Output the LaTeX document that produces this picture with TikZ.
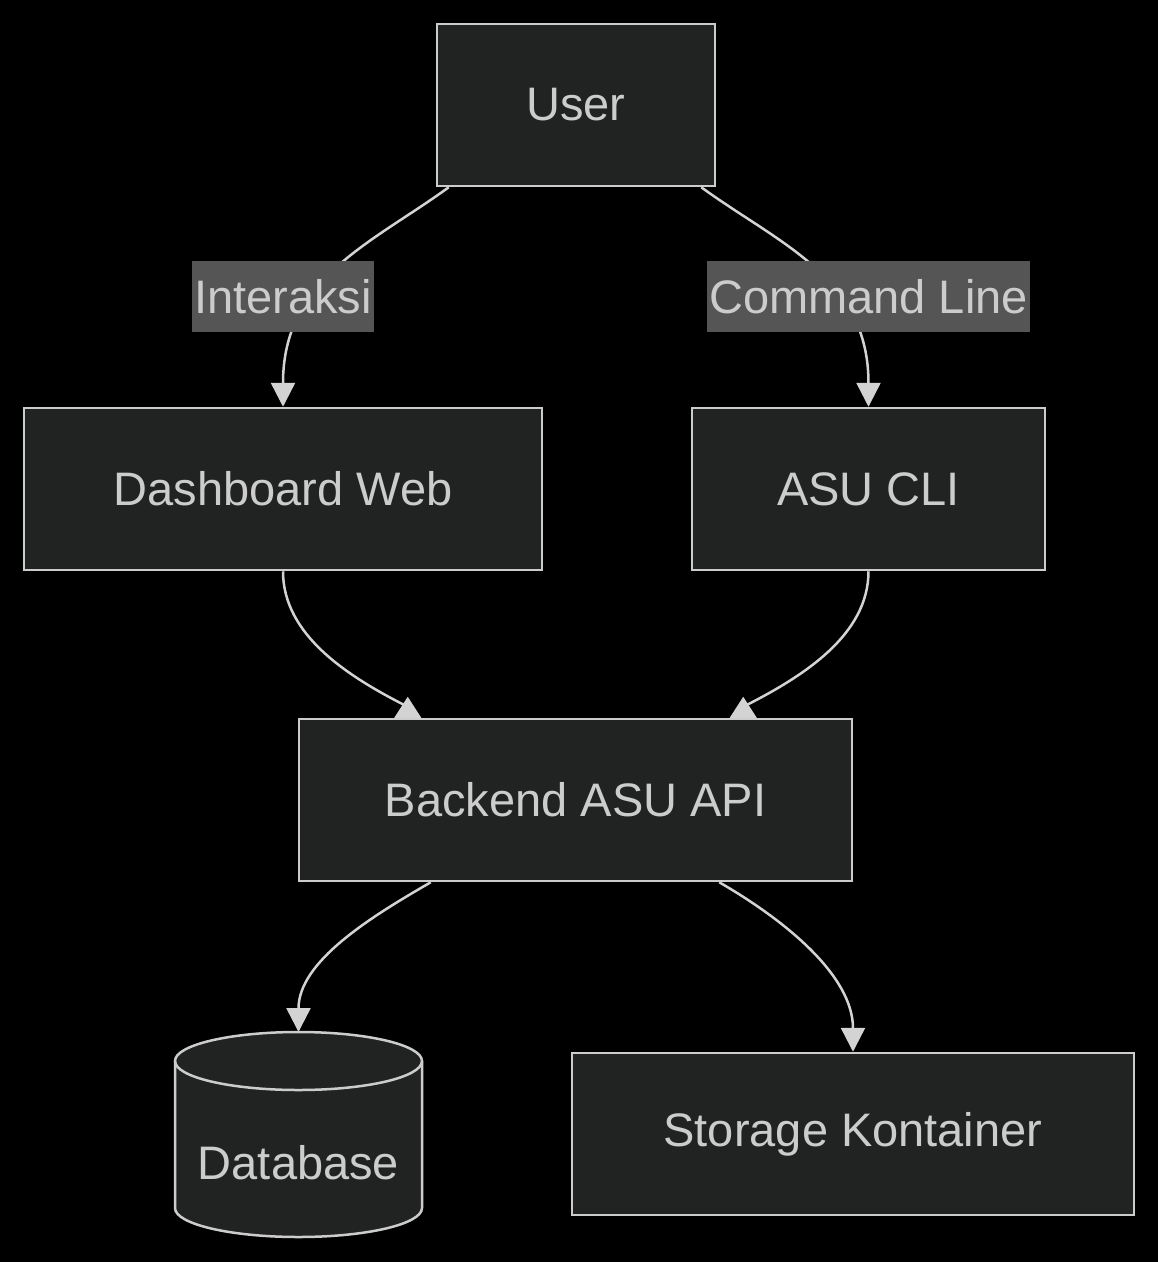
\documentclass[tikz,border=0pt]{standalone}
\usepackage{fontspec}
\setmainfont{Liberation Sans}
\usetikzlibrary{arrows.meta}
\definecolor{bgc}{HTML}{000000}
\definecolor{boxfill}{HTML}{212322}
\definecolor{boxline}{HTML}{CCCCCC}
\definecolor{txt}{HTML}{CCCCCC}
\definecolor{lblfill}{HTML}{555555}
\definecolor{edgec}{HTML}{D3D3D3}
\tikzset{
  box/.style={draw=boxline, fill=boxfill, line width=2.5pt, text=txt, font=\fontsize{47}{55}\selectfont, inner sep=0pt},
  lbl/.style={fill=lblfill, text=txt, font=\fontsize{47}{55}\selectfont, inner sep=0pt},
  edge/.style={draw=edgec, line width=2.5pt, -{Triangle[length=24pt,width=24pt]}},
  plainedge/.style={draw=edgec, line width=2.5pt},
  uptip/.style={fill=edgec},
}
\begin{document}
\begin{tikzpicture}[x=1pt,y=1pt]
\useasboundingbox (0,0) rectangle (1158,-1262);
\fill[bgc] (0,0) rectangle (1158,-1262);
% nodes
\node[box, minimum width=278pt, minimum height=162pt] (user) at (576,-105) {User};
\node[box, minimum width=518pt, minimum height=162pt] (dash) at (283,-489) {Dashboard Web};
\node[box, minimum width=353pt, minimum height=162pt] (cli) at (868.5,-489) {ASU CLI};
\node[box, minimum width=553pt, minimum height=162pt] (api) at (575.5,-800) {Backend ASU API};
\node[box, minimum width=562pt, minimum height=162pt] (store) at (853,-1134) {Storage Kontainer};
% cylinder
\coordinate (dbtop) at (298.5,-1032);
\filldraw[draw=boxline, fill=boxfill, line width=2.5pt]
  (175,-1061) -- (175,-1208) arc[start angle=180, end angle=360, x radius=123.5pt, y radius=29pt]
  -- (422,-1061) arc[start angle=0, end angle=180, x radius=123.5pt, y radius=29pt] -- cycle;
\draw[draw=boxline, line width=2.5pt] (175,-1061) arc[start angle=180, end angle=360, x radius=123.5pt, y radius=29pt];
\node[text=txt, font=\fontsize{47}{55}\selectfont, inner sep=0pt] (db) at (298.5,-1163) {Database};
% edges
\draw[edge] ([xshift=13pt]user.south west) to[out=-144, in=90, out looseness=0.9, in looseness=1.2] (dash.north);
\draw[edge] ([xshift=-15pt]user.south east) to[out=-36, in=90, out looseness=0.9, in looseness=1.2] (cli.north);
% edges into API with upward-pointing heads
\coordinate (ta) at ([xshift=110pt]api.north west);
\coordinate (tb) at ([xshift=-110pt]api.north east);
\draw[plainedge] (dash.south) to[out=-90, in=153, looseness=0.9] ([xshift=-2pt,yshift=12pt]ta);
\draw[plainedge] (cli.south) to[out=-90, in=27, looseness=0.9] ([xshift=2pt,yshift=12pt]tb);
\fill[uptip] ([xshift=-13.5pt]ta) -- ([xshift=13.5pt]ta) -- ([yshift=21pt]ta) -- cycle;
\fill[uptip] ([xshift=-13.5pt]tb) -- ([xshift=13.5pt]tb) -- ([yshift=21pt]tb) -- cycle;
\draw[edge] ([xshift=133pt]api.south west) to[out=-150, in=90, looseness=0.9] (dbtop);
\draw[edge] ([xshift=-134pt]api.south east) to[out=-30, in=90, looseness=0.9] (store.north);
% edge labels
\node[lbl, minimum width=182pt, minimum height=71pt] (l1) at (283,-296.5) {Interaksi};
\node[lbl, minimum width=323pt, minimum height=71pt] (l2) at (868.5,-296.5) {Command Line};
\end{tikzpicture}
\end{document}
